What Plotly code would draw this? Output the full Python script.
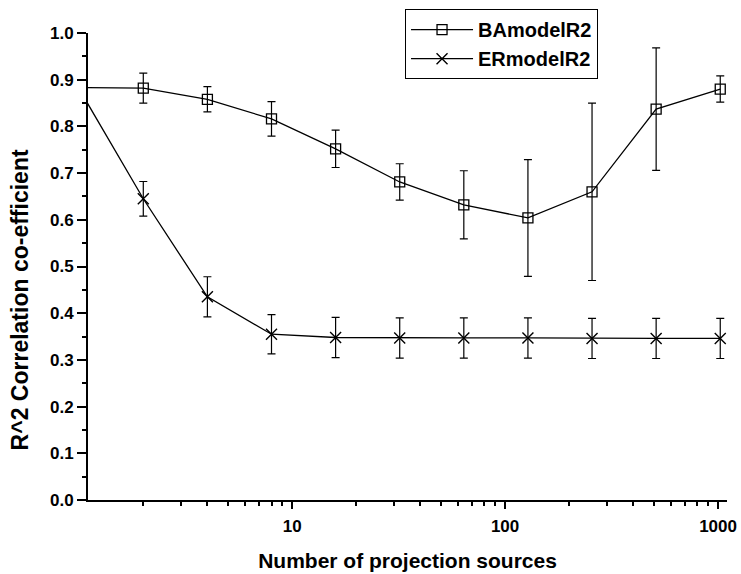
import plotly.graph_objects as go

# Number of projection sources (log scale)
sources = [1, 2, 4, 8, 16, 32, 64, 128, 256, 512, 1024]

# BA model R^2 and error
ba_r2 = [0.883, 0.882, 0.858, 0.816, 0.752, 0.681, 0.632, 0.604, 0.660, 0.837, 0.880]
ba_err = [0.03, 0.032, 0.027, 0.037, 0.040, 0.039, 0.073, 0.125, 0.190, 0.131, 0.028]

# ER model R^2 and error
er_r2 = [0.880, 0.645, 0.435, 0.355, 0.348, 0.347, 0.347, 0.347, 0.346, 0.346, 0.346]
er_err = [0.03, 0.037, 0.043, 0.042, 0.043, 0.043, 0.043, 0.043, 0.043, 0.043, 0.043]

x_ticks = [10, 100, 1000]
x_minor = [2, 3, 4, 5, 6, 7, 8, 9, 20, 30, 40, 50, 60, 70, 80, 90,
           200, 300, 400, 500, 600, 700, 800, 900]

FONT = "Liberation Sans, Arial, sans-serif"

fig = go.Figure()
fig.add_trace(go.Scatter(
    x=sources, y=ba_r2, name="BAmodelR2", mode="lines+markers",
    line=dict(color="black", width=1.3),
    marker=dict(symbol="square-open", size=10, color="black", line=dict(width=1.3)),
    error_y=dict(type="data", array=ba_err, color="black", thickness=1.2, width=4),
))
fig.add_trace(go.Scatter(
    x=sources, y=er_r2, name="ERmodelR2", mode="lines+markers",
    line=dict(color="black", width=1.3),
    marker=dict(symbol="x-thin-open", size=11, color="black", line=dict(width=1.4, color="black")),
    error_y=dict(type="data", array=er_err, color="black", thickness=1.2, width=4),
))

fig.update_layout(
    width=741, height=574,
    margin=dict(l=88, r=14, t=33, b=74, autoexpand=False),
    paper_bgcolor="white", plot_bgcolor="white",
    font=dict(family=FONT, color="black", size=17, weight="bold"),
    showlegend=True,
    legend=dict(
        xref="container", yref="container",
        x=0.5466, y=0.984, xanchor="left", yanchor="top",
        bordercolor="black", borderwidth=1, bgcolor="white",
        font=dict(family=FONT, size=20, weight="bold"),
        tracegroupgap=0, itemwidth=62,
    ),
    annotations=[dict(
        text="R^2 Correlation co-efficient", textangle=-90,
        xref="paper", yref="paper", x=-0.106, y=0.428,
        xanchor="center", yanchor="middle", showarrow=False,
        font=dict(family=FONT, size=23, weight="bold", color="black"),
    )],
)

fig.update_xaxes(
    type="log", range=[0.0414, 3.042], automargin=False,
    tickmode="array", tickvals=x_ticks, ticktext=[str(v) for v in x_ticks],
    ticks="outside", ticklen=7, tickwidth=2, tickcolor="black",
    minor=dict(tickmode="array", tickvals=x_minor, ticks="outside", ticklen=4,
               tickwidth=2, tickcolor="black", showgrid=False),
    showline=True, linecolor="black", linewidth=2, showgrid=False, zeroline=False,
    tickfont=dict(size=17, weight="bold"), ticklabelstandoff=3,
    title=dict(text="Number of projection sources", font=dict(size=21, weight="bold"), standoff=18),
)
fig.update_yaxes(
    range=[0, 1.0], dtick=0.1, tickformat=".1f", automargin=False,
    ticks="outside", ticklen=9, tickwidth=2, tickcolor="black",
    minor=dict(dtick=0.05, ticks="outside", ticklen=4, tickwidth=2,
               tickcolor="black", showgrid=False),
    showline=True, linecolor="black", linewidth=2, showgrid=False, zeroline=False,
    tickfont=dict(size=17, weight="bold"),
)

fig.write_html("out.html")
